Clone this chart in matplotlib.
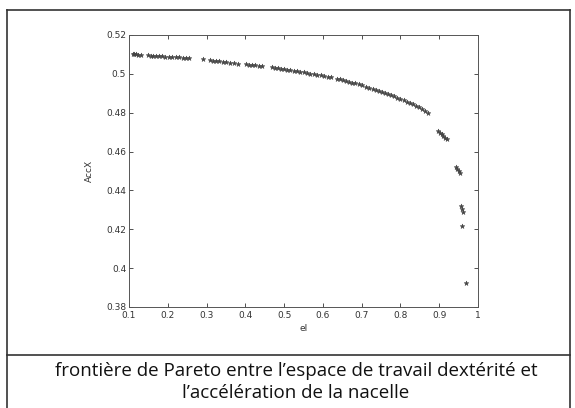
import numpy as np
import matplotlib
matplotlib.use("Agg")
from matplotlib import pyplot as plt
from matplotlib.lines import Line2D

# Pareto front points
el = [0.110, 0.114, 0.119, 0.124, 0.130,
      0.150, 0.156, 0.162, 0.170, 0.178, 0.186, 0.194, 0.203, 0.212, 0.220, 0.229, 0.238, 0.247, 0.256,
      0.292, 0.308, 0.316, 0.324, 0.333, 0.342, 0.351, 0.360, 0.370, 0.380,
      0.402, 0.410, 0.418, 0.426, 0.434, 0.442,
      0.468, 0.476, 0.484, 0.492, 0.500, 0.508, 0.516, 0.525, 0.533, 0.541, 0.550,
      0.560, 0.568, 0.577, 0.585, 0.594, 0.603, 0.612, 0.620,
      0.636, 0.644, 0.652, 0.660, 0.668, 0.676, 0.684, 0.692, 0.700,
      0.712, 0.720, 0.728, 0.736, 0.744, 0.752, 0.760, 0.768, 0.776, 0.784,
      0.792, 0.800, 0.808, 0.816, 0.824, 0.832, 0.840, 0.848, 0.856, 0.864, 0.872,
      0.896, 0.901, 0.906, 0.911, 0.916, 0.921,
      0.944, 0.947, 0.950, 0.953,
      0.955, 0.958, 0.961, 0.960,
      0.968]
accx = [0.5102, 0.5100, 0.5101, 0.5099, 0.5098,
        0.5095, 0.5094, 0.5093, 0.5092, 0.5091, 0.5090, 0.5089, 0.5088, 0.5087, 0.5086, 0.5085, 0.5084, 0.5083, 0.5081,
        0.5075, 0.5070, 0.5068, 0.5066, 0.5064, 0.5062, 0.5060, 0.5058, 0.5056, 0.5053,
        0.5050, 0.5048, 0.5046, 0.5044, 0.5042, 0.5040,
        0.5033, 0.5031, 0.5029, 0.5027, 0.5025, 0.5022, 0.5020, 0.5017, 0.5015, 0.5012, 0.5009,
        0.5004, 0.5001, 0.4998, 0.4995, 0.4992, 0.4989, 0.4986, 0.4982,
        0.4975, 0.4971, 0.4967, 0.4963, 0.4959, 0.4955, 0.4951, 0.4946, 0.4941,
        0.4934, 0.4929, 0.4924, 0.4919, 0.4913, 0.4908, 0.4902, 0.4896, 0.4890, 0.4884,
        0.4878, 0.4871, 0.4864, 0.4857, 0.4850, 0.4843, 0.4835, 0.4827, 0.4819, 0.4810, 0.4800,
        0.4705, 0.4695, 0.4688, 0.4680, 0.4672, 0.4665,
        0.4520, 0.4510, 0.4500, 0.4488,
        0.4318, 0.4305, 0.4290, 0.4215,
        0.3925]

xticks = [0.1, 0.2, 0.3, 0.4, 0.5, 0.6, 0.7, 0.8, 0.9, 1]
xticklabels = ['0.1', '0.2', '0.3', '0.4', '0.5', '0.6', '0.7', '0.8', '0.9', '1']
yticks = [0.38, 0.4, 0.42, 0.44, 0.46, 0.48, 0.5, 0.52]
yticklabels = ['0.38', '0.4', '0.42', '0.44', '0.46', '0.48', '0.5', '0.52']

caption = ["frontière de Pareto entre l\u2019espace de travail dextérité et",
           "l\u2019accélération de la nacelle"]

fig = plt.figure(figsize=(5.75, 4.08), dpi=100)

# table frame around the chart and caption
W, H = 575.0, 408.0
frame = dict(color='#333333', lw=1.2, transform=fig.transFigure)
fig.add_artist(Line2D([7/W, 570/W], [1-10/H, 1-10/H], **frame))
fig.add_artist(Line2D([7/W, 7/W], [0, 1-10/H], **frame))
fig.add_artist(Line2D([570/W, 570/W], [0, 1-10/H], **frame))
fig.add_artist(Line2D([7/W, 570/W], [1-355/H, 1-355/H], **frame))

ax = fig.add_axes([129/W, 1-307/H, 349/W, 272/H])
ax.scatter(el, accx, marker='*', s=12, color='#444444', linewidths=0.4)

ax.set_xlim(0.1, 1)
ax.set_ylim(0.38, 0.52)
ax.set_xticks(xticks)
ax.set_xticklabels(xticklabels)
ax.set_yticks(yticks)
ax.set_yticklabels(yticklabels)
ax.tick_params(direction='in', top=True, right=True, length=3, width=0.6,
               labelsize=6.5, colors='#333333')
ax.tick_params(axis='x', pad=3)
ax.tick_params(axis='y', pad=2)
for s in ax.spines.values():
    s.set_linewidth(0.7)
    s.set_color('#555555')

ax.set_xlabel('el', fontsize=6.5, labelpad=3, color='#333333')
ax.set_ylabel('AccX', fontsize=6.5, labelpad=9, color='#333333')

fig.text(296/W, 1-371/H, caption[0], ha='center', va='center',
         fontsize=13.5, family='Open Sans', color='#111111')
fig.text(296/W, 1-393/H, caption[1], ha='center', va='center',
         fontsize=13.5, family='Open Sans', color='#111111')

fig.savefig('out.png', dpi=100)
